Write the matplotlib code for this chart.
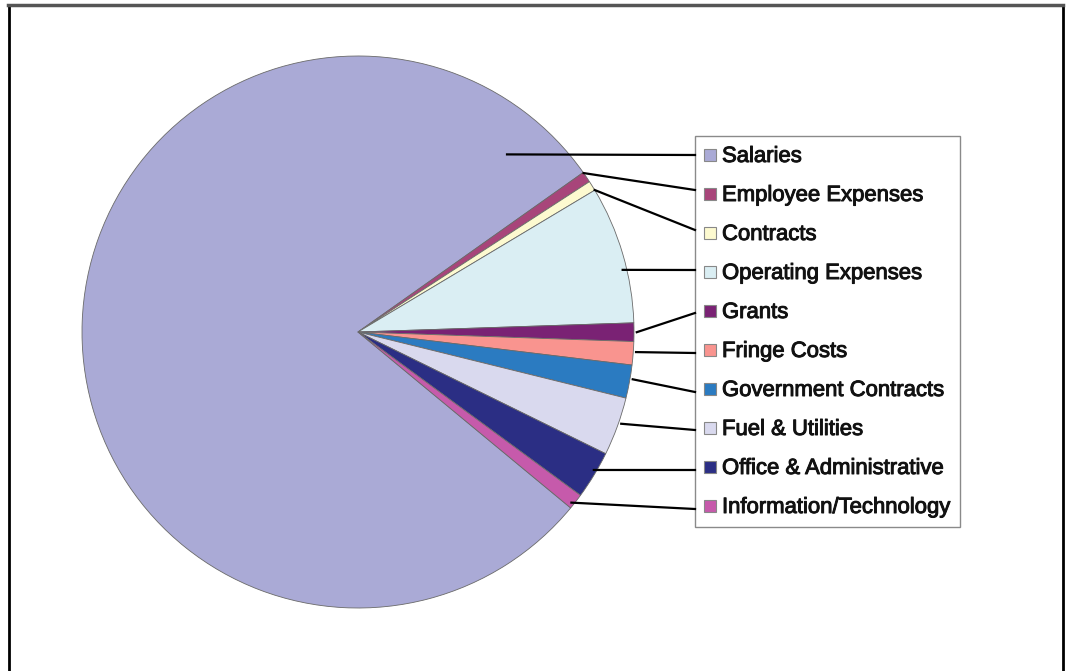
import numpy as np
import matplotlib.pyplot as plt
import matplotlib.patheffects as pe
from matplotlib.patches import Rectangle

plt.rcParams['font.family'] = ['Liberation Sans', 'DejaVu Sans']

labels = ["Salaries", "Employee Expenses", "Contracts", "Operating Expenses",
          "Grants", "Fringe Costs", "Government Contracts", "Fuel & Utilities",
          "Office & Administrative", "Information/Technology"]
shares = [79.2, 0.64, 0.58, 8.06, 1.08, 1.36, 1.94, 3.42, 2.81, 0.92]
colors = ["#aaaad6", "#a8457a", "#fdfad0", "#daeef3", "#7a2274",
          "#f9948f", "#2b7bc1", "#d9d9ee", "#2b2e84", "#c65aab"]

W, H = 1066, 671
fig = plt.figure(figsize=(W / 100, H / 100), dpi=100)
ax = fig.add_axes([0, 0, 1, 1])

cx, cy, R = 358, H - 332, 276
wedges, _ = ax.pie(shares, colors=colors, startangle=-39.6, counterclock=False,
                   center=(cx, cy), radius=R, frame=True,
                   wedgeprops=dict(edgecolor="#6a6a6a", linewidth=0.6))
ax.set_xlim(0, W)
ax.set_ylim(0, H)
ax.axis("off")

# outer frame
ax.plot([8.5, 8.5], [0, H - 5], color="black", lw=2)
ax.plot([1062.5, 1062.5], [0, H - 5], color="black", lw=2)
ax.plot([8, 1063], [H - 5, H - 5], color="#555555", lw=2.5)

# legend box
lx0, lx1, ly0, ly1 = 695, 960, H - 527, H - 136
ax.add_patch(Rectangle((lx0, ly0), lx1 - lx0, ly1 - ly0, fill=False,
                       edgecolor="#8a8a8a", lw=1))
row_y = [H - (155 + 39 * i) for i in range(len(labels))]
for i, (lab, col) in enumerate(zip(labels, colors)):
    y = row_y[i]
    ax.add_patch(Rectangle((704, y - 6), 12, 12, facecolor=col,
                           edgecolor="#888888", lw=0.8))
    ax.text(722, y - 1.5, lab, fontsize=15.9, va="center", ha="left",
            color="#111111",
            path_effects=[pe.withStroke(linewidth=0.7, foreground="#111111")])

# leader lines: anchor angle offset from wedge middle, and target row on legend
anchor_shift = [0, 1.0, -1.0, -3.2, 0, 0.3, 0.6, 0.8, 0.9, -0.7]
anchor_r = [0.84, 1.0, 1.0, 0.985, 1.01, 1.01, 1.01, 1.01, 0.99, 0.99]
target_y = [155, 190, 230, 270, 313, 353, 392, 430, 470, 509]
for i, w in enumerate(wedges):
    if i == 0:
        ang = np.deg2rad(50)
    else:
        ang = np.deg2rad((w.theta1 + w.theta2) / 2 + anchor_shift[i])
    sx = cx + anchor_r[i] * R * np.cos(ang)
    sy = cy + anchor_r[i] * R * np.sin(ang)
    ax.plot([sx, lx0], [sy, H - target_y[i]], color="black", lw=1.6)

fig.savefig("out.png", dpi=100, facecolor="white")
